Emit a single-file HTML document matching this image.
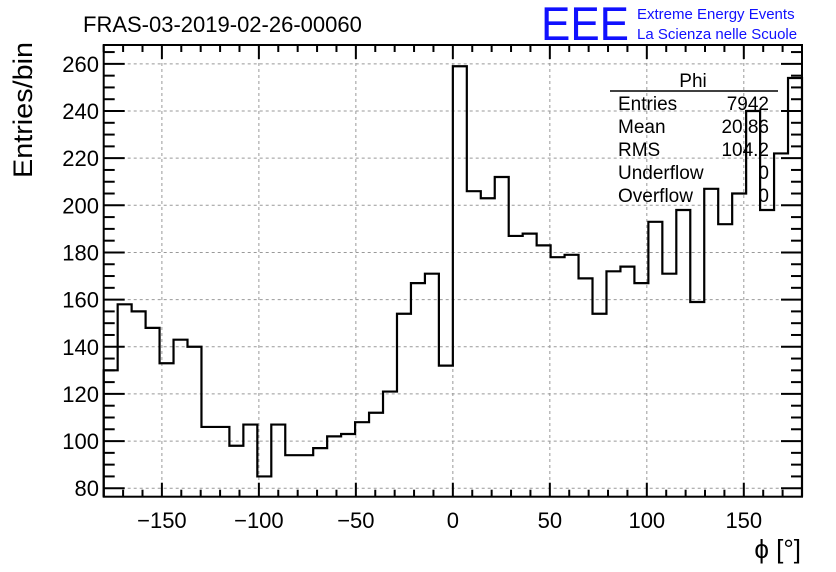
<!DOCTYPE html>
<html><head><meta charset="utf-8"><style>
html,body{margin:0;padding:0;background:#fff;}
svg{display:block;font-family:"Liberation Sans",Arial,sans-serif;}
</style></head><body>
<svg id="chart" width="836" height="572" viewBox="0 0 836 572" xmlns="http://www.w3.org/2000/svg">
<rect x="0" y="0" width="836" height="572" fill="#fff"/>
<text x="83" y="32" font-size="22" fill="#000">FRAS-03-2019-02-26-00060</text>
<text x="541" y="40" font-size="47" fill="#1010ff" textLength="88" lengthAdjust="spacingAndGlyphs">EEE</text>
<text x="637" y="19" font-size="15" fill="#1010ff">Extreme Energy Events</text>
<text x="637" y="39" font-size="15" fill="#1010ff">La Scienza nelle Scuole</text>
<g id="grid"></g>
<path id="hist" fill="none" stroke="#000" stroke-width="2.2"/>
<g id="axes"></g>
<text transform="translate(32,178) rotate(-90)" font-size="27" fill="#000" textLength="136" lengthAdjust="spacingAndGlyphs">Entries/bin</text>
<text x="801" y="558" font-size="26" text-anchor="end" fill="#000">ϕ [°]</text>
<g font-size="19" fill="#000">
<text x="693" y="87" text-anchor="middle">Phi</text>
<line x1="610" y1="91" x2="778" y2="91" stroke="#000" stroke-width="1.5"/>
<text x="618" y="110">Entries</text><text x="769" y="110" text-anchor="end">7942</text>
<text x="618" y="133">Mean</text><text x="769" y="133" text-anchor="end">20.86</text>
<text x="618" y="156">RMS</text><text x="769" y="156" text-anchor="end">104.2</text>
<text x="618" y="179">Underflow</text><text x="769" y="179" text-anchor="end">0</text>
<text x="618" y="202">Overflow</text><text x="769" y="202" text-anchor="end">0</text>
</g>
</svg>
<script>
const counts = [130,158,155,148,133,143,140,106,106,98,107,85,107,94,94,97,102,103,108,112,121,154,167,171,132,
259,206,203,212,187,188,183,178,179,169,154,172,174,167,193,171,198,159,207,192,205,240,198,222,254];
const xRange = [-180,180];
const yRange = [76.4,268];
const xTicks = [-150,-100,-50,0,50,100,150];
const yTicks = [80,100,120,140,160,180,200,220,240,260];
const L=103.7,R=802,T=45,B=496.7;
const NS="http://www.w3.org/2000/svg";
function X(v){return L+(v-xRange[0])/(xRange[1]-xRange[0])*(R-L);}
function Y(v){return B-(v-yRange[0])/(yRange[1]-yRange[0])*(B-T);}
function mk(tag,attrs,parent){const e=document.createElementNS(NS,tag);for(const k in attrs)e.setAttribute(k,attrs[k]);parent.appendChild(e);return e;}
const grid=document.getElementById('grid'),axes=document.getElementById('axes');
xTicks.forEach(t=>{const l=mk('line',{x1:X(t),x2:X(t),y1:T,y2:B,stroke:'#999','stroke-dasharray':'3,3','stroke-width':1},grid);

});
yTicks.forEach(t=>{const l=mk('line',{x1:L,x2:R,y1:Y(t),y2:Y(t),stroke:'#999','stroke-dasharray':'3,3','stroke-width':1},grid);

});
const w=(xRange[1]-xRange[0])/counts.length;
let d='M'+X(xRange[0])+','+B;
counts.forEach((c,i)=>{const x0=X(xRange[0]+i*w),x1=X(xRange[0]+(i+1)*w);d+=' L'+x0+','+Y(c)+' L'+x1+','+Y(c);});
d+=' L'+X(xRange[1])+','+B;
document.getElementById('hist').setAttribute('d',d);
const fr=mk('rect',{x:L,y:T,width:R-L,height:B-T,fill:'none',stroke:'#000','stroke-width':2},axes);


for(let v=-180;v<=180;v+=10){const maj=(v%50===0);const len=maj?14:7;
mk('line',{x1:X(v),x2:X(v),y1:B,y2:B-len,stroke:'#000','stroke-width':2},axes);
mk('line',{x1:X(v),x2:X(v),y1:T,y2:T+len,stroke:'#000','stroke-width':2},axes);}
xTicks.forEach(t=>{const tx=mk('text',{x:X(t),y:528,'font-size':22,'text-anchor':'middle',fill:'#000'},axes);tx.textContent=(t<0?'\u2212'+(-t):t);

});
for(let v=80;v<=265;v+=5){const maj=(v%20===0);const len=maj?21:11;
mk('line',{x1:L,x2:L+len,y1:Y(v),y2:Y(v),stroke:'#000','stroke-width':2},axes);
mk('line',{x1:R,x2:R-len,y1:Y(v),y2:Y(v),stroke:'#000','stroke-width':2},axes);}
yTicks.forEach(t=>{const tx=mk('text',{x:99,y:Y(t)+8,'font-size':22,'text-anchor':'end',fill:'#000'},axes);tx.textContent=t;

});
</script>
</body></html>
